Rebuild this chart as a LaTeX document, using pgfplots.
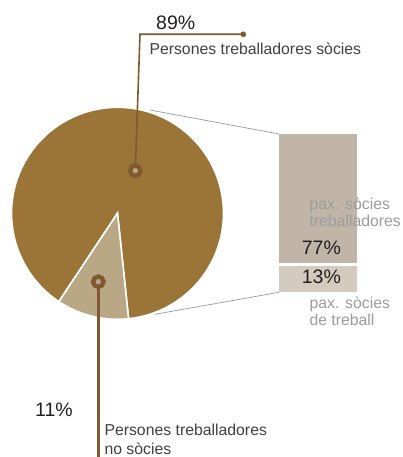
\documentclass[border=0pt]{standalone}
\usepackage{pgfplots}
\pgfplotsset{compat=1.18}
\usepackage{pgfplotstable}
\usepackage{fontspec}
\setmainfont{Liberation Sans}
\definecolor{pieA}{HTML}{9B7537}
\definecolor{pieB}{HTML}{B9A785}
\definecolor{barA}{HTML}{C1B5A7}
\definecolor{barB}{HTML}{D4CABE}
\definecolor{leader}{HTML}{7F5A2E}
\definecolor{ringin}{HTML}{B8A888}
\definecolor{txt}{HTML}{231F20}
\definecolor{lbl}{HTML}{404040}
\definecolor{paxg}{HTML}{9C9C9C}
\pgfplotstableread{
group value
socies 89
nosocies 11
}\piedata
\pgfplotstableread{
group value
treballadores 77
detreball 13
}\bardata
\pgfplotstablegetelem{1}{value}\of\piedata
\let\valsmall=\pgfplotsretval
\pgfmathsetmacro\sA{256.2-\valsmall*1.8}
\pgfmathsetmacro\sB{\sA+\valsmall*3.6}
\pgfmathsetmacro\sC{\sA+360}
\newcommand{\pct}{\fontsize{19.5bp}{22bp}\selectfont}
\newcommand{\lab}{\fontsize{15.8bp}{18bp}\selectfont}
\begin{document}
\begin{tikzpicture}
\path[use as bounding box] (0,0) rectangle (403bp,457bp);
\begin{axis}[
  at={(0,0)}, anchor=south west,
  scale only axis, width=403bp, height=457bp,
  xmin=0, xmax=403, ymin=0, ymax=457,
  enlargelimits=false, hide axis, clip=false]
% connector lines
\addplot[draw=gray!80, line width=0.7bp] coordinates {(150,347) (279,323)};
\addplot[draw=gray!80, line width=0.7bp] coordinates {(155,142.7) (279,164.7)};
% pie
\fill[pieA, draw=white, line width=1.6bp] (axis cs:117.5,243.7) -- ++(\sB:106bp) arc[start angle=\sB, end angle=\sC, radius=106bp] -- cycle;
\fill[pieB, draw=white, line width=1.6bp] (axis cs:117.5,243.7) -- ++(\sA:106bp) arc[start angle=\sA, end angle=\sB, radius=106bp] -- cycle;
% bars
\fill[barA] (axis cs:279,323) rectangle (axis cs:356.7,193.7);
\fill[barB] (axis cs:279,191) rectangle (axis cs:356.7,164.7);
% leaders
\addplot[leader, line width=1.6bp, mark=none] coordinates {(135.3,286.3) (140,422.7) (243.3,422.7)};
\addplot[leader, only marks, mark=*, mark size=2.6bp] coordinates {(243.3,422.7)};
\addplot[leader, line width=2.8bp, mark=none] coordinates {(98.3,175.3) (98.3,0)};
\addplot[only marks, mark=*, mark size=5.2bp, mark options={draw=leader, fill=ringin, line width=4.4bp}] coordinates {(135.3,286.3) (98.3,175.3)};
% texts
\node[anchor=base west, inner sep=0, font=\pct, text=txt] at (axis cs:156,427) {89\%};
\node[anchor=base west, inner sep=0, font=\lab, text=lbl] at (axis cs:149.3,402) {Persones treballadores sòcies};
\node[anchor=base west, inner sep=0, font=\lab, text=paxg] at (axis cs:309.3,247.7) {pax. sòcies};
\node[anchor=base west, inner sep=0, font=\lab, text=paxg] at (axis cs:309.3,230.3) {treballadores};
\node[anchor=base west, inner sep=0, font=\pct, text=txt] at (axis cs:301.7,202) {77\%};
\node[anchor=base west, inner sep=0, font=\pct, text=txt] at (axis cs:301.7,173) {13\%};
\node[anchor=base west, inner sep=0, font=\lab, text=paxg] at (axis cs:309.3,148.7) {pax. sòcies};
\node[anchor=base west, inner sep=0, font=\lab, text=paxg] at (axis cs:309.3,131) {de treball};
\node[anchor=base west, inner sep=0, font=\pct, text=txt] at (axis cs:35,40.3) {11\%};
\node[anchor=base west, inner sep=0, font=\lab, text=lbl] at (axis cs:104.3,22) {Persones treballadores};
\node[anchor=base west, inner sep=0, font=\lab, text=lbl] at (axis cs:104.3,3) {no sòcies};
\end{axis}
\end{tikzpicture}
\end{document}
